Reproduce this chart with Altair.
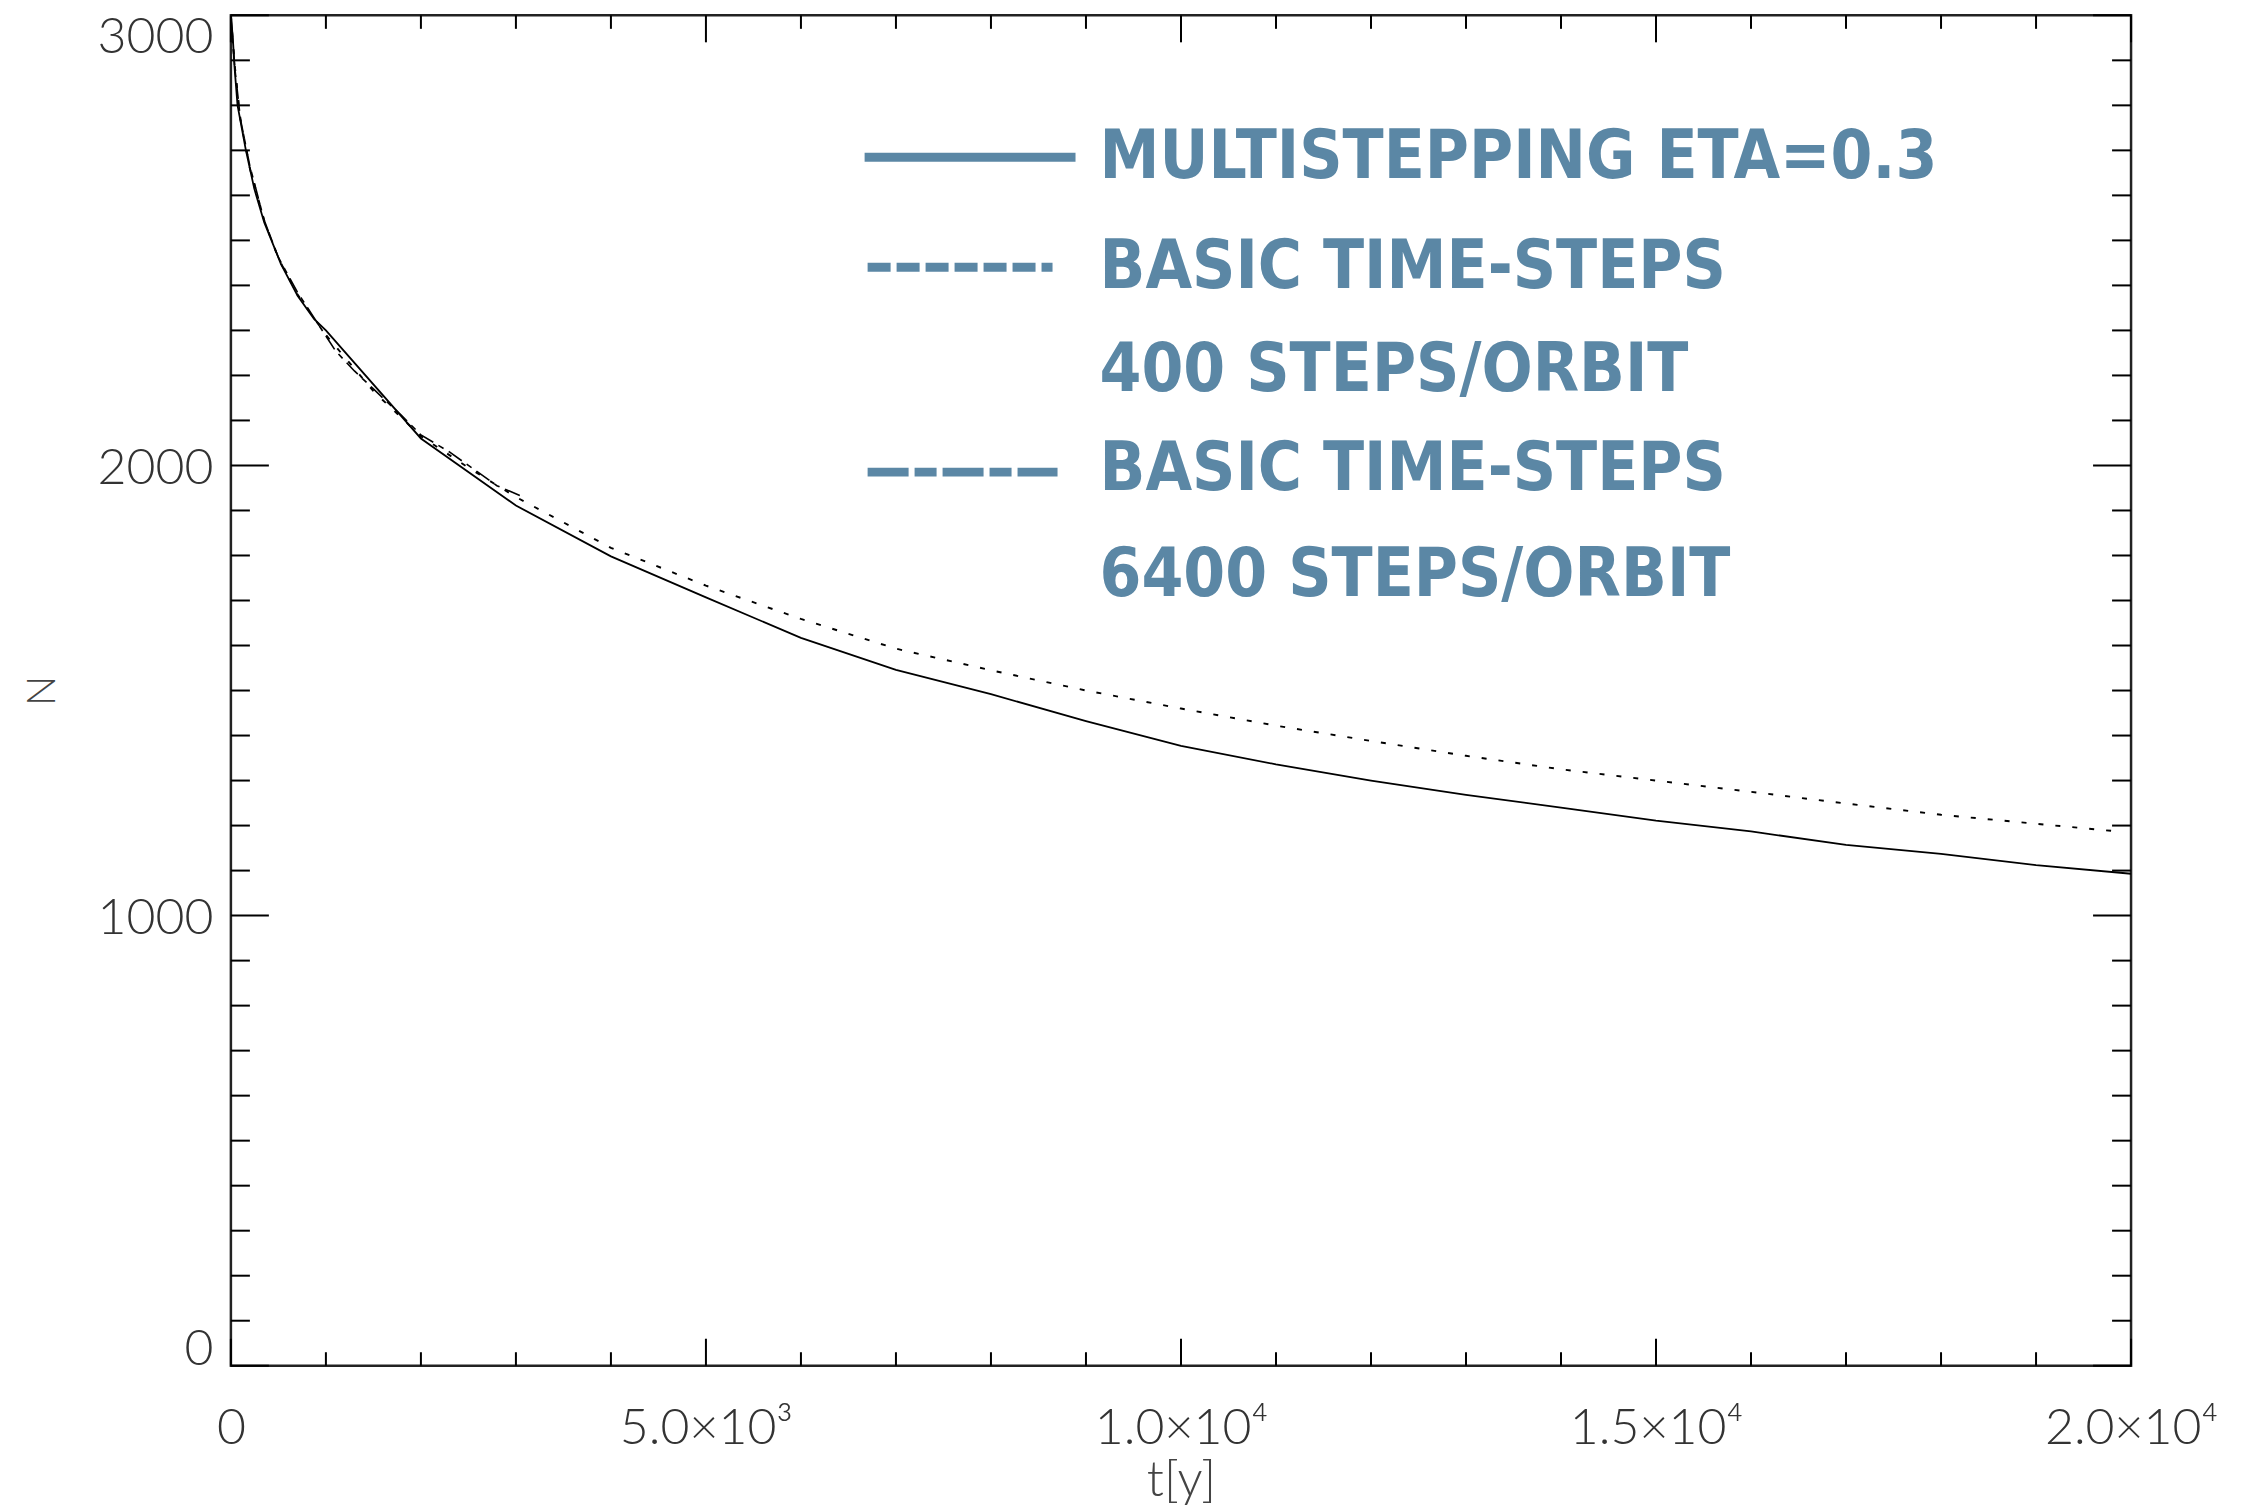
import altair as alt
import pandas as pd

# ---- data ----
t_multi = [0, 20, 40, 70, 158, 246, 351, 526, 702, 877, 1000, 2000, 3000, 4000, 5000,
           6000, 7000, 8000, 9000, 10000, 11000, 12000, 13000, 14000, 15000, 16000,
           17000, 18000, 19000, 20000]
n_multi = [3000, 2950, 2880, 2800, 2700, 2615, 2540, 2448, 2377, 2325, 2300, 2060, 1911,
           1798, 1707, 1617, 1546, 1492, 1432, 1377, 1336, 1300, 1268, 1240, 1211, 1187,
           1157, 1137, 1112, 1093]

t_400 = [0, 40, 100, 200, 350, 500, 700, 1000, 1500, 2000, 2500, 3000, 4000, 5000, 6000,
         7000, 8000, 9000, 10000, 11000, 12000, 13000, 14000, 15000, 16000, 17000, 18000,
         19000, 19860]
n_400 = [3000, 2890, 2770, 2660, 2545, 2460, 2380, 2290, 2165, 2065, 1995, 1930, 1817,
         1733, 1659, 1593, 1545, 1500, 1460, 1422, 1388, 1355, 1325, 1300, 1275, 1249,
         1224, 1204, 1187]

t_6400 = [0, 40, 100, 200, 350, 500, 700, 900, 1100, 1300, 1500, 1800, 2000, 2300, 2600,
          2800, 3080]
n_6400 = [3000, 2885, 2770, 2665, 2545, 2462, 2385, 2320, 2255, 2210, 2170, 2110, 2068,
          2030, 1985, 1955, 1930]

legend_labels = ["MULTISTEPPING ETA=0.3", "BASIC TIME-STEPS", "400 STEPS/ORBIT",
                 "BASIC TIME-STEPS", "6400 STEPS/ORBIT"]

x_major = [0, 5000, 10000, 15000, 20000]
x_tick_labels = ["0", "5.0×10³", "1.0×10⁴", "1.5×10⁴", "2.0×10⁴"]
x_minor = [v for v in range(0, 20001, 1000) if v % 5000 != 0]
y_major = [0, 1000, 2000, 3000]
y_minor = [v for v in range(0, 3001, 100) if v % 1000 != 0]

# ---- layout ----
W, H = 1901, 1351
LEG = "#5B87A5"
AXFONT = "Lato"
LEGFONT = "DejaVu Sans Condensed, Roboto Condensed, Arial Narrow, DejaVu Sans, sans-serif"

df = pd.concat([
    pd.DataFrame({"t": t_multi, "N": n_multi, "s": "multi"}),
    pd.DataFrame({"t": t_400, "N": n_400, "s": "b400"}),
    pd.DataFrame({"t": t_6400, "N": n_6400, "s": "b6400"}),
], ignore_index=True)

xs = alt.Scale(domain=[0, 20000], nice=False, zero=False)
ys = alt.Scale(domain=[0, 3000], nice=False, zero=False)

label_expr = "[" + ",".join("'%s'" % s for s in x_tick_labels) + "][indexof([" + \
    ",".join(str(v) for v in x_major) + "], datum.value)]"

xaxis = alt.Axis(values=x_major, labelExpr=label_expr, ticks=False, domain=False,
                 grid=False, labelFont=AXFONT, labelFontSize=50, labelFontWeight=300,
                 labelColor="#333", labelPadding=38, labelFlush=False, title="t[y]",
                 titleFont=AXFONT, titleFontSize=50, titleFontWeight=300,
                 titleColor="#444", titlePadding=2, labelOverlap=False)
yaxis = alt.Axis(values=y_major, format="d", ticks=False, domain=False, grid=False,
                 labelFont=AXFONT, labelFontSize=50, labelFontWeight=300,
                 labelColor="#333", labelPadding=18, labelFlush=True,
                 labelFlushOffset=6, labelOffset=3, title="N",
                 titleFont=AXFONT, titleFontSize=40, titleFontWeight=300,
                 titleColor="#444", titlePadding=34)

base = alt.Chart(df)

def curve(name, dash, width):
    enc = dict(x=alt.X("t:Q", scale=xs, axis=xaxis), y=alt.Y("N:Q", scale=ys, axis=yaxis))
    m = base.transform_filter(alt.datum.s == name)
    kw = dict(color="black", strokeWidth=width, clip=True)
    if dash:
        kw["strokeDash"] = dash
    return m.mark_line(**kw).encode(**enc)

solid = curve("multi", None, 1.8)
dotted = curve("b400", [5, 12], 1.9)
dashed = curve("b6400", [16, 6, 6, 6], 1.6)

# ticks (inward, all four sides)
def yticks(vals, length):
    d = alt.Chart(pd.DataFrame({"v": vals}))
    l = d.mark_rule(color="black", strokeWidth=2).encode(
        y=alt.Y("v:Q", scale=ys), x=alt.value(0), x2=alt.value(length))
    r = d.mark_rule(color="black", strokeWidth=2).encode(
        y=alt.Y("v:Q", scale=ys), x=alt.value(W - length), x2=alt.value(W))
    return [l, r]

def xticks(vals, length):
    d = alt.Chart(pd.DataFrame({"v": vals}))
    b = d.mark_rule(color="black", strokeWidth=2).encode(
        x=alt.X("v:Q", scale=xs), y=alt.value(H), y2=alt.value(H - length))
    t = d.mark_rule(color="black", strokeWidth=2).encode(
        x=alt.X("v:Q", scale=xs), y=alt.value(0), y2=alt.value(length))
    return [b, t]

ticks = yticks(y_major, 38) + yticks(y_minor, 19) + xticks(x_major, 27) + xticks(x_minor, 13.5)

# legend
one = alt.Chart(pd.DataFrame({"k": [0]}))
leg_lines = [
    one.mark_rule(color=LEG, strokeWidth=9).encode(
        x=alt.value(634), x2=alt.value(845), y=alt.value(142)),
    one.mark_rule(color=LEG, strokeWidth=9, strokeDash=[23, 6]).encode(
        x=alt.value(637), x2=alt.value(822), y=alt.value(252)),
    one.mark_rule(color=LEG, strokeWidth=9, strokeDash=[41, 6, 22, 6]).encode(
        x=alt.value(637), x2=alt.value(827), y=alt.value(457)),
]
leg_y = [143, 253, 356, 455, 561]
leg_texts = [
    alt.Chart(pd.DataFrame({"label": [lab]})).mark_text(
        align="left", baseline="middle", font=LEGFONT,
        fontWeight="bold", fontSize=67, color=LEG).encode(
        text="label:N", x=alt.value(869), y=alt.value(yy))
    for lab, yy in zip(legend_labels, leg_y)
]

chart = alt.layer(solid, dotted, dashed, *ticks, *leg_lines, *leg_texts).properties(
    width=W, height=H,
    autosize=alt.AutoSizeParams(type="none"),
    padding={"left": 231, "top": 15, "right": 110, "bottom": 144},
    background="white",
).configure_view(stroke="#222", strokeWidth=2.5)

chart.save("out.html", embed_options={"renderer": "svg", "actions": False})
